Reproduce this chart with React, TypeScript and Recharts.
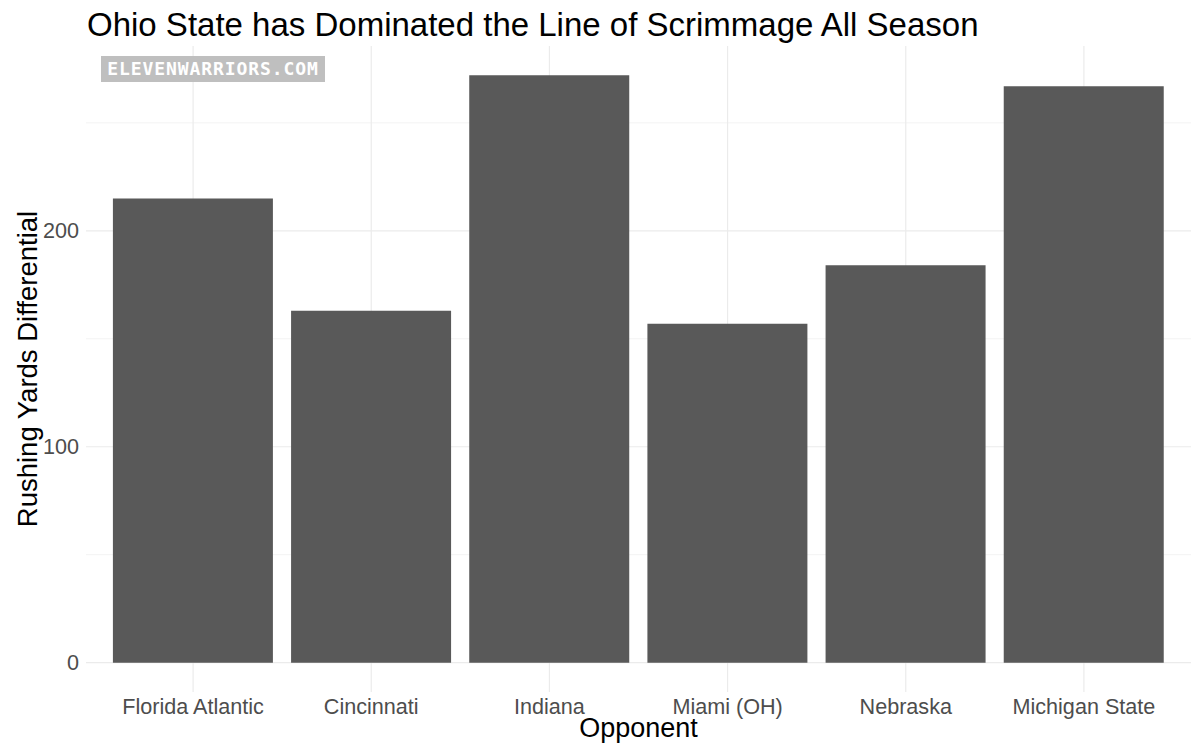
import { BarChart, Bar, XAxis, YAxis, CartesianGrid, Label } from 'recharts';

const opponents = ['Florida Atlantic', 'Cincinnati', 'Indiana', 'Miami (OH)', 'Nebraska', 'Michigan State'];
const rushDiff = [215, 163, 272, 157, 184, 267];
const majorTicks = [0, 100, 200];
const minorTicks = [50, 150, 250];

const data = opponents.map((name, i) => ({ name, value: rushDiff[i] }));

const FONT = '"Liberation Sans", Arial, Helvetica, sans-serif';

export default function App() {
  return (
    <div style={{ position: 'absolute', left: 0, top: 0, width: 1200, height: 751, background: '#fff', fontFamily: FONT }}>
      <div style={{ position: 'absolute', left: 87, top: 6, fontSize: 33, color: '#000', whiteSpace: 'nowrap' }}>
        Ohio State has Dominated the Line of Scrimmage All Season
      </div>
      <BarChart
        width={1200}
        height={751}
        data={data}
        margin={{ top: 46, right: 9, bottom: 0, left: 0 }}
        barCategoryGap="5%"
      >
        {/* minor grid first, then major grid + vertical lines at categories */}
        <CartesianGrid stroke="#f3f3f3" strokeWidth={1} vertical={false} horizontalValues={minorTicks} syncWithTicks />
        <CartesianGrid stroke="#ebebeb" strokeWidth={1.2} horizontalValues={majorTicks} syncWithTicks />
        <XAxis
          dataKey="name"
          height={59}
          padding={{ left: 18, right: 18 }}
          axisLine={false}
          tickLine={false}
          tickSize={5}
          tickMargin={2}
          tick={{ fill: '#4d4d4d', fontSize: 21.6, fontFamily: FONT }}
          interval={0}
        >
          <Label value="Opponent" position="insideBottom" offset={14} style={{ fill: '#000', fontSize: 27, fontFamily: FONT }} />
        </XAxis>
        <YAxis
          width={86}
          domain={[-13.6, 285.6]}
          ticks={majorTicks}
          allowDataOverflow
          axisLine={false}
          tickLine={false}
          tickSize={5}
          tickMargin={2}
          tick={{ fill: '#4d4d4d', fontSize: 21.6, fontFamily: FONT }}
        >
          <Label
            value="Rushing Yards Differential"
            angle={-90}
            position="insideLeft"
            offset={27}
            style={{ fill: '#000', fontSize: 27.5, fontFamily: FONT, textAnchor: 'middle' }}
          />
        </YAxis>
        <Bar dataKey="value" fill="#595959" isAnimationActive={false} />
      </BarChart>
      <div
        style={{
          position: 'absolute',
          left: 101,
          top: 56,
          width: 224,
          height: 26,
          background: '#bfbfbf',
          color: '#fff',
          fontFamily: '"DejaVu Sans Mono", monospace',
          fontWeight: 'bold',
          fontSize: 18,
          letterSpacing: 0.9,
          lineHeight: '26px',
          textAlign: 'center',
          whiteSpace: 'nowrap',
        }}
      >
        ELEVENWARRIORS.COM
      </div>
    </div>
  );
}
